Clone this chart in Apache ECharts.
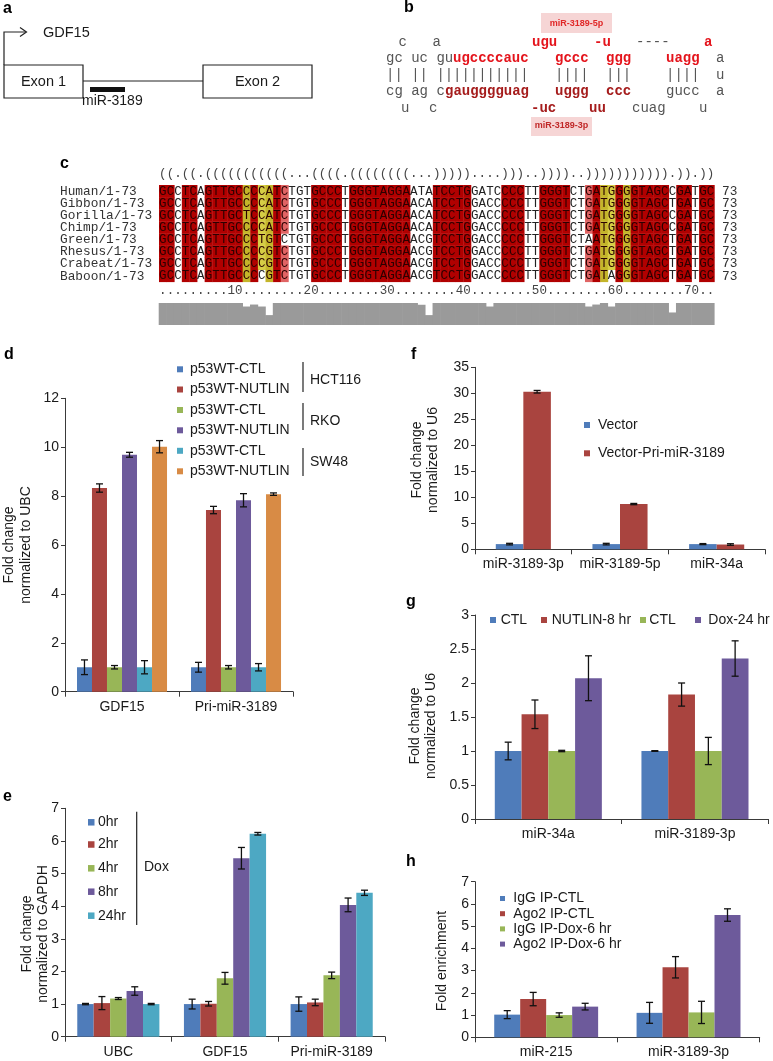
<!DOCTYPE html>
<html><head><meta charset="utf-8">
<script src="https://cdn.jsdelivr.net/npm/echarts@6/dist/echarts.min.js"></script>
<style>html,body{margin:0;padding:0;background:#fff}#chart{width:773px;height:1061px}</style>
</head><body><div id="chart"></div>
<script>
const FONT = 'Liberation Sans, Arial, sans-serif';
const MONO = 'Liberation Mono, Courier New, monospace';

// ---------- panel c data ----------
const alignNames = ['Human/1-73','Gibbon/1-73','Gorilla/1-73','Chimp/1-73','Green/1-73','Rhesus/1-73','Crabeat/1-73','Baboon/1-73'];
const alignSeqs = [
  'GCCTCAGTTGCCCCATCTGTGCCCTGGGTAGGAATATCCTGGATCCCCTTGGGTCTGATGGGGTAGCCGATGC',
  'GCCTCAGTTGCCCCATCTGTGCCCTGGGTAGGAACATCCTGGACCCCCTTGGGTCTGATGGGGTAGCTGATGC',
  'GCCTCAGTTGCTCCATCTGTGCCCTGGGTAGGAACATCCTGGACCCCCTTGGGTCTGATGGGGTAGCCGATGC',
  'GCCTCAGTTGCCCCATCTGTGCCCTGGGTAGGAACATCCTGGACCCCCTTGGGTCTGATGGGGTAGCCGATGC',
  'GCCTCAGTTGCCCTGTCTGTGCCCTGGGTAGGAACGTCCTGGACCCCCTTGGGTCTAATGGGGTAGCTGATGC',
  'GCCTCAGTTGCCCCGTCTGTGCCCTGGGTAGGAACGTCCTGGACCCCCTTGGGTCTGATGGGGTAGCTGATGC',
  'GCCTCAGTTGCCCCGTCTGTGCCCTGGGTAGGAACGTCCTGGACCCCCTTGGGTCTGATGGGGTAGCTGATGC',
  'GCCTCAGTTGCCCCGTCTGTGCCCTGGGTAGGAACGTCCTGGACCCCCTTGGGTCTGATAGGGTAGCTGATGC'
];
const structureParts = ['((','.','((','.','(((((((((((','...','((((','.','((((((((','...',')))))','....',')))','..','))))','..',')))))))))))','.','))','.','))'];
const rulerText = '.........10........20........30........40........50........60........70..';
const conservation = [
  1,1,1,1,1,1,1,1,1,1,
  1,0.84,0.93,0.84,0.45,1,1,1,1,1,
  1,1,1,1,1,1,1,1,1,1,
  1,1,1,1,0.92,0.45,1,1,1,1,
  1,1,1,0.84,1,1,1,1,1,1,
  1,1,1,1,1,1,0.84,0.93,1,0.84,
  1,1,1,1,1,1,1,0.57,1,1,
  1,1,1
];

// ---------- panel d ----------
const dCategories = ['GDF15','Pri-miR-3189'];
const dNames = ['p53WT-CTL','p53WT-NUTLIN','p53WT-CTL','p53WT-NUTLIN','p53WT-CTL','p53WT-NUTLIN'];
const dGroups = ['HCT116','RKO','SW48'];
const dValues = [[1.0,1.0],[8.33,7.43],[1.0,1.0],[9.69,7.83],[1.0,1.0],[10.02,8.08]];
const dErrors = [[0.3,0.2],[0.17,0.15],[0.07,0.07],[0.1,0.27],[0.27,0.15],[0.25,0.05]];
// ---------- panel e ----------
const eCategories = ['UBC','GDF15','Pri-miR-3189'];
const eNames = ['0hr','2hr','4hr','8hr','24hr'];
const eValues = [[1.0,1.0,1.0],[1.03,1.01,1.05],[1.17,1.79,1.88],[1.4,5.47,4.04],[1.0,6.22,4.41]];
const eErrors = [[0.02,0.15,0.22],[0.2,0.07,0.1],[0.03,0.18,0.1],[0.13,0.33,0.21],[0.02,0.04,0.08]];
// ---------- panel f ----------
const fCategories = ['miR-3189-3p','miR-3189-5p','miR-34a'];
const fNames = ['Vector','Vector-Pri-miR-3189'];
const fValues = [[1.0,1.0,1.0],[30.3,8.7,0.92]];
const fErrors = [[0.15,0.15,0.1],[0.25,0.12,0.15]];
// ---------- panel g ----------
const gCategories = ['miR-34a','miR-3189-3p'];
const gNames = ['CTL','NUTLIN-8 hr','CTL','Dox-24 hr'];
const gValues = [[1.0,1.0],[1.54,1.83],[1.0,1.0],[2.07,2.36]];
const gErrors = [[0.13,0.005],[0.21,0.17],[0.01,0.2],[0.33,0.26]];
// ---------- panel h ----------
const hCategories = ['miR-215','miR-3189-3p'];
const hNames = ['IgG IP-CTL','Ago2 IP-CTL','IgG IP-Dox-6 hr','Ago2 IP-Dox-6 hr'];
const hValues = [[1.02,1.1],[1.72,3.15],[1.0,1.12],[1.38,5.5]];
const hErrors = [[0.18,0.47],[0.3,0.48],[0.1,0.5],[0.15,0.28]];

const C_BLUE='#4F7CBA', C_RED='#A9443F', C_GREEN='#98B657', C_PURPLE='#6D5A9B', C_TEAL='#4DA8C3', C_ORANGE='#D88B45';
const dColors=[C_BLUE,C_RED,C_GREEN,C_PURPLE,C_TEAL,C_ORANGE];
const eColors=[C_BLUE,C_RED,C_GREEN,C_PURPLE,C_TEAL];
const fColors=[C_BLUE,C_RED];
const gColors=[C_BLUE,C_RED,C_GREEN,C_PURPLE];
const hColors=[C_BLUE,C_RED,C_GREEN,C_PURPLE];

// ---------- alignment colouring from structure ----------
const structure = structureParts.join('');
const L = structure.length;
const pairOf = new Array(L).fill(-1); const stack=[];
for (let i=0;i<L;i++){ if(structure[i]==='(') stack.push(i); else if(structure[i]===')'){ const j=stack.pop(); pairOf[i]=j; pairOf[j]=i; } }
const validPairs = new Set(['AU','UA','GC','CG','GU','UG']);
const cellFill = alignSeqs.map(()=>new Array(L).fill(null));
for (let i=0;i<L;i++){
  const j = pairOf[i]; if (j<0) continue;
  const lo=Math.min(i,j), hi=Math.max(i,j);
  const types=new Set(); let bad=0; const ok=[];
  alignSeqs.forEach((s,k)=>{ const p=(s[lo]+s[hi]).replace(/T/g,'U'); if(validPairs.has(p)){types.add(p); ok.push(k);} else bad++; });
  let col;
  if (types.size<=1) col = bad? '#E06464' : '#B10000';
  else if (types.size===2) col = bad? '#D6CD45' : '#C4B52A';
  else col = bad? '#7FBF7F' : '#2E9E2E';
  ok.forEach(k=>{ cellFill[k][i]=col; });
}
const cellData=[], cellInfo=[];
alignSeqs.forEach((s,r)=>{ for(let i=0;i<L;i++){ cellData.push([i,r]); cellInfo.push({ch:s[i], fill:cellFill[r][i]}); } });
const structData = structure.split('').map((c,i)=>[i,-0.97]);
const rulerData = rulerText.split('').map((c,i)=>[i,8.75]);
const nameData = alignNames.map((n,r)=>[0,r]);
const consData = conservation.map((v,i)=>[i,v]);

// ---------- bar panels ----------
const grids=[], xAxes=[], yAxes=[], series=[];
const axisLineStyle = {color:'#3a3a3a', width:1};
function addBarPanel(cfg){
  const gi = grids.length;
  grids.push({left:cfg.left, top:cfg.top, width:cfg.width, height:cfg.height});
  xAxes.push({gridIndex:gi, type:'category', data:cfg.cats, axisLine:{lineStyle:axisLineStyle}, axisTick:{show:true, length:5, lineStyle:axisLineStyle},
    axisLabel:{fontSize:14, color:'#1a1a1a', fontFamily:FONT, margin:8, interval:0, hideOverlap:false}, splitLine:{show:false}});
  yAxes.push({gridIndex:gi, type:'value', min:0, max:cfg.max, interval:cfg.interval, axisLine:{show:true, lineStyle:axisLineStyle},
    axisTick:{show:true, length:4, lineStyle:axisLineStyle}, splitLine:{show:false},
    axisLabel:{fontSize:14, color:'#1a1a1a', fontFamily:FONT, margin:6}});
  const n = cfg.names.length;
  cfg.names.forEach((nm,i)=>{
    series.push({type:'bar', name:nm, xAxisIndex:gi, yAxisIndex:gi, data:cfg.values[i], barGap:'0%', barCategoryGap:cfg.gap+'%',
      itemStyle:{color:cfg.colors[i]}, silent:true, animation:false});
  });
  cfg.names.forEach((nm,i)=>{
    series.push({type:'custom', xAxisIndex:gi, yAxisIndex:gi, z:10, silent:true, animation:false,
      data: cfg.values[i].map((v,k)=>[k,v,cfg.errors[i][k]]),
      encode:{x:0,y:1},
      renderItem:(params,api)=>{
        const k=api.value(0), v=api.value(1), e=api.value(2);
        const c=api.coord([k,v]);
        const band=api.size([1,0])[0];
        const bw=band*(1-cfg.gap/100)/n;
        const x=c[0]-n*bw/2+(i+0.5)*bw;
        const yHi=api.coord([k,v+e])[1], yLo=api.coord([k,v-e])[1];
        const cap=3.5, st={stroke:'#111', lineWidth:1.3};
        return {type:'group', children:[
          {type:'line', shape:{x1:x,y1:yHi,x2:x,y2:yLo}, style:st},
          {type:'line', shape:{x1:x-cap,y1:yHi,x2:x+cap,y2:yHi}, style:st},
          {type:'line', shape:{x1:x-cap,y1:yLo,x2:x+cap,y2:yLo}, style:st}
        ]};
      }});
  });
}

// grid 0: alignment, grid 1: conservation
grids.push({left:159, top:185, width:555.3, height:96.7});
xAxes.push({gridIndex:0, type:'value', min:0, max:L, show:false});
yAxes.push({gridIndex:0, type:'value', min:0, max:8, inverse:true, show:false});
grids.push({left:159, top:303, width:555.3, height:22});
xAxes.push({gridIndex:1, type:'value', min:0, max:L, show:false});
yAxes.push({gridIndex:1, type:'value', min:0, max:1, show:false});

series.push({type:'custom', xAxisIndex:0, yAxisIndex:0, silent:true, animation:false, data:cellData, encode:{x:0,y:1},
  renderItem:(params,api)=>{
    const col=api.value(0), row=api.value(1);
    const tl=api.coord([col,row]), br=api.coord([col+1,row+1]);
    const info=cellInfo[params.dataIndex];
    const ch=[];
    if(info.fill) ch.push({type:'rect', shape:{x:tl[0],y:tl[1],width:br[0]-tl[0]+0.4,height:br[1]-tl[1]+0.4}, style:{fill:info.fill}});
    ch.push({type:'text', style:{text:info.ch, x:(tl[0]+br[0])/2, y:(tl[1]+br[1])/2+0.5, align:'center', verticalAlign:'middle',
      fill: info.fill ? '#2a0000' : '#222', fontFamily:MONO, fontSize:12.5}});
    return {type:'group', children:ch};
  }});
series.push({type:'custom', xAxisIndex:0, yAxisIndex:0, silent:true, animation:false, data:structData, encode:{x:0,y:1},
  renderItem:(params,api)=>{ const p=api.coord([api.value(0)+0.5, api.value(1)]);
    return {type:'text', style:{text:structure[params.dataIndex], x:p[0], y:p[1], align:'center', verticalAlign:'middle', fill:'#444', fontFamily:MONO, fontSize:12.5}}; }});
series.push({type:'custom', xAxisIndex:0, yAxisIndex:0, silent:true, animation:false, data:rulerData, encode:{x:0,y:1},
  renderItem:(params,api)=>{ const p=api.coord([api.value(0)+0.5, api.value(1)]);
    return {type:'text', style:{text:rulerText[params.dataIndex], x:p[0], y:p[1], align:'center', verticalAlign:'middle', fill:'#444', fontFamily:MONO, fontSize:12.5}}; }});
series.push({type:'custom', xAxisIndex:0, yAxisIndex:0, silent:true, animation:false, data:nameData, encode:{x:0,y:1},
  renderItem:(params,api)=>{ const p=api.coord([0, api.value(1)+0.5]);
    return {type:'group', children:[
      {type:'text', style:{text:alignNames[params.dataIndex], x:60, y:p[1]+0.5, align:'left', verticalAlign:'middle', fill:'#333', fontFamily:MONO, fontSize:12.8}},
      {type:'text', style:{text:String(L), x:722, y:p[1]+0.5, align:'left', verticalAlign:'middle', fill:'#333', fontFamily:MONO, fontSize:12.8}}
    ]}; }});
series.push({type:'custom', xAxisIndex:1, yAxisIndex:1, silent:true, animation:false, data:consData, encode:{x:0,y:1},
  renderItem:(params,api)=>{ const i=api.value(0), v=api.value(1);
    const tl=api.coord([i,v]), br=api.coord([i+1,0]);
    return {type:'rect', shape:{x:tl[0]-0.3, y:tl[1], width:br[0]-tl[0]+0.6, height:br[1]-tl[1]}, style:{fill:'#9a9a9a'}}; }});

addBarPanel({left:65, top:398.3, width:228, height:293.4, cats:dCategories, names:dNames, values:dValues, errors:dErrors, colors:dColors, gap:21, max:12, interval:2});
addBarPanel({left:65, top:808.3, width:320, height:228.4, cats:eCategories, names:eNames, values:eValues, errors:eErrors, colors:eColors, gap:23, max:7, interval:1});
addBarPanel({left:475, top:367.3, width:290, height:182, cats:fCategories, names:fNames, values:fValues, errors:fErrors, colors:fColors, gap:43, max:35, interval:5});
addBarPanel({left:475, top:615, width:293.3, height:204, cats:gCategories, names:gNames, values:gValues, errors:gErrors, colors:gColors, gap:27, max:3, interval:0.5});
addBarPanel({left:475, top:881.7, width:284.7, height:155.6, cats:hCategories, names:hNames, values:hValues, errors:hErrors, colors:hColors, gap:27, max:7, interval:1});

// ---------- graphics ----------
const G=[];
function T(x,y,text,o){ G.push({type:'text', x, y, silent:true, style:Object.assign({text, fill:'#1a1a1a', fontFamily:FONT, fontSize:14, align:'left', verticalAlign:'middle'}, o||{})}); }
function panelLabel(x,y,t){ T(x,y,t,{fontWeight:'bold', fontSize:16, fill:'#000'}); }
function line(x1,y1,x2,y2,o){ G.push({type:'line', silent:true, shape:{x1,y1,x2,y2}, style:Object.assign({stroke:'#222', lineWidth:1.2}, o||{})}); }
function rect(x,y,w,h,o){ G.push({type:'rect', silent:true, shape:{x,y,width:w,height:h}, style:Object.assign({fill:'none', stroke:'#222', lineWidth:1.2}, o||{})}); }

panelLabel(3,9,'a'); panelLabel(404,8,'b'); panelLabel(60,164,'c'); panelLabel(4,355,'d'); panelLabel(3,797,'e');
panelLabel(411,355,'f'); panelLabel(406,602,'g'); panelLabel(406,862,'h');

// panel a
G.push({type:'polyline', silent:true, shape:{points:[[4,65],[4,32],[26,32]]}, style:{stroke:'#222', lineWidth:1.2, fill:null}});
G.push({type:'polyline', silent:true, shape:{points:[[20,27.5],[26.5,32],[20,36.5]]}, style:{stroke:'#222', lineWidth:1.2, fill:null}});
T(43,33,'GDF15',{fontSize:14.5});
rect(4,65,79,33); T(43.5,82,'Exon 1',{align:'center',fontSize:14.5});
line(83,81,203,81,{lineWidth:1});
rect(90,87,35,5,{fill:'#111', stroke:null});
T(82,101,'miR-3189',{fontSize:14});
rect(203,65,109,33); T(257.5,82,'Exon 2',{align:'center',fontSize:14.5});

// panel b (hairpin)
const GRAY='#555', R5='#E4141C', R3='#A51C1C';
rect(541,13,71,20,{fill:'#F6D5D5', stroke:null}); T(576.5,23.5,'miR-3189-5p',{align:'center', fill:'#E02828', fontSize:9, fontWeight:'bold'});
rect(531,117,61,19,{fill:'#F6D5D5', stroke:null}); T(561.5,126,'miR-3189-3p',{align:'center', fill:'#C02828', fontSize:9, fontWeight:'bold'});
const hp = [
  [42, [['c',398.5,GRAY],['a',432.5,GRAY],['ugu',532,R5,1],['-u',594,R5,1],['----',636,GRAY],['a',704,R5,1]]],
  [58, [['gc uc gu',386,GRAY],['ugccccauc',453,R5,1],['gccc',555,R5,1],['ggg',606,R5,1],['uagg',666,R5,1],['a',716,GRAY]]],
  [75, [['|| || ||',386,GRAY],['|||||||||',453,GRAY],['||||',555,GRAY],['|||',606,GRAY],['||||',666,GRAY],['u',716,GRAY]]],
  [91, [['cg ag c',386,GRAY],['gaugggguag',445,R3,1],['uggg',555,R3,1],['ccc',606,R3,1],['gucc',666,GRAY],['a',716,GRAY]]],
  [108,[['u',401,GRAY],['c',429,GRAY],['-uc',531,R3,1],['uu',589,R3,1],['cuag',632,GRAY],['u',699,GRAY]]]
];
hp.forEach(([y,segs])=>segs.forEach(([t,x,c,b])=>T(x,y,t,{fill:c, fontFamily:MONO, fontSize:14, fontWeight:b?'bold':'normal'})));

// y axis names
function yName(cx,cy,text,lh){ G.push({type:'text', x:cx, y:cy, rotation:Math.PI/2, silent:true, style:{text, fill:'#1a1a1a', fontFamily:FONT, fontSize:14, align:'center', verticalAlign:'middle', lineHeight:lh}}); }
yName(17.5,545,'Fold change\nnormalized to UBC',17);
yName(35,934,'Fold change\nnormalized to GAPDH',16);
yName(425,460,'Fold change\nnormalized to U6',16.5);
yName(423.3,726,'Fold change\nnormalized to U6',16.5);
yName(441.7,961,'Fold enrichment',16);

// legends
function legItem(mx,my,tx,name,color,ms){ ms=ms||6; rect(mx,my-ms/2,ms,ms,{fill:color,stroke:null}); T(tx,my,name); }
const dRows=[369.3,389.5,410,430.3,450.8,471.3];
dNames.forEach((n,i)=>legItem(177,dRows[i],190,n,dColors[i]));
[[362,392],[403,430],[448,476]].forEach(([a,b],k)=>{ line(303,a,303,b,{lineWidth:1.2}); T(310,(dRows[2*k]+dRows[2*k+1])/2+1,dGroups[k]); });
const eRows=[822.3,844.5,868.3,891.7,915.7];
eNames.forEach((n,i)=>legItem(88,eRows[i],98,n,eColors[i],6.5));
line(136.7,811.7,136.7,925); T(144,866.7,'Dox');
const fRows=[425,453.3];
fNames.forEach((n,i)=>legItem(584,fRows[i],598,n,fColors[i]));
const gLeg=[[490,500.7],[541,551.7],[640,649.3],[695,708.3]];
gNames.forEach((n,i)=>legItem(gLeg[i][0],620,gLeg[i][1],n,gColors[i]));
const hRows=[898.5,913.7,928.9,944.1];
hNames.forEach((n,i)=>legItem(500,hRows[i],513.3,n,hColors[i],5));

const chart = echarts.init(document.getElementById('chart'), null, {renderer:'canvas'});
chart.setOption({animation:false, backgroundColor:'#fff', textStyle:{fontFamily:FONT},
  grid:grids, xAxis:xAxes, yAxis:yAxes, series, graphic:{elements:G}});
</script></body></html>
